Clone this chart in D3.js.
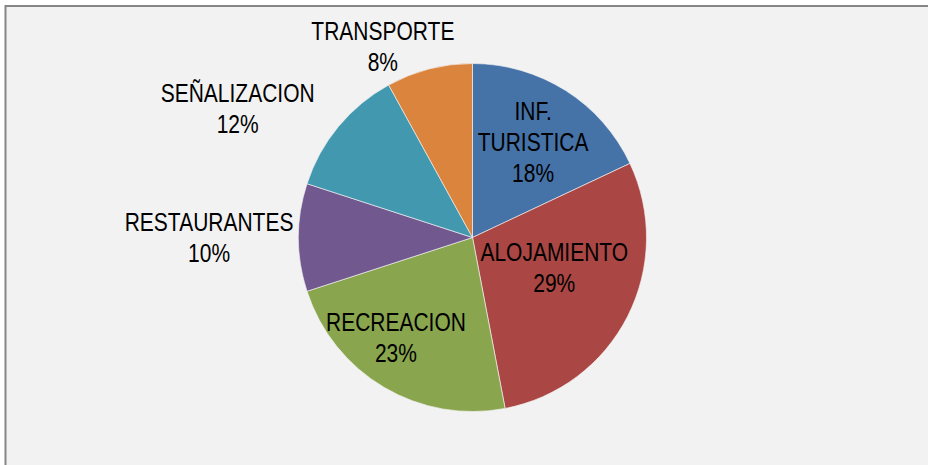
<!DOCTYPE html>
<html><head><meta charset="utf-8">
<script src="https://cdn.jsdelivr.net/npm/d3@7"></script>
<style>html,body{margin:0;padding:0;background:#fff;}svg{display:block;}</style>
</head><body>
<svg id="chart" width="928" height="465"></svg>
<script>
const categories = ["INF.\nTURISTICA", "ALOJAMIENTO", "RECREACION", "RESTAURANTES", "SEÑALIZACION", "TRANSPORTE"];
const values = [18, 29, 23, 10, 12, 8];
const colors = ["#4572A7", "#AA4643", "#89A54E", "#71588F", "#4198AF", "#DB843D"];

// label placement (polar, relative to each slice's mid angle)
const labelRadius = [0.65, 0.50, 0.726, 1.514, 1.54, 1.21];
const labelShiftDeg = [0, -7, 6.7, 0, -10.8, -10.8];

const W = 928, H = 465;
const cx = 472.5, cy = 237.5, R = 174;
const fontSize = 25, lineH = 31, capH = 18, narrow = 0.84;

const svg = d3.select("#chart");
svg.append("rect").attr("x", 0).attr("y", 0).attr("width", W).attr("height", H).attr("fill", "#fff");
svg.append("rect").attr("x", 5.5).attr("y", 6).attr("width", W + 20).attr("height", H + 20)
  .attr("fill", "#F2F2F2").attr("stroke", "#868686").attr("stroke-width", 2);

const total = d3.sum(values);
const pie = d3.pie().sort(null).value(d => d);
const arcs = pie(values);
const arc = d3.arc().innerRadius(0).outerRadius(R);

const g = svg.append("g").attr("transform", `translate(${cx},${cy})`);
g.selectAll("path").data(arcs).join("path")
  .attr("d", arc)
  .attr("fill", (d, i) => colors[i])
  .attr("stroke", "#f4f4f4").attr("stroke-width", 0.8).attr("stroke-opacity", 0.8);

g.selectAll("g.lab").data(arcs).join("g")
  .attr("class", "lab")
  .each(function(d, i) {
    const mid = (d.startAngle + d.endAngle) / 2 + labelShiftDeg[i] * Math.PI / 180;
    const r = labelRadius[i] * R;
    const x = r * Math.sin(mid), y = -r * Math.cos(mid);
    const lines = categories[i].split("\n").concat([Math.round(values[i] / total * 100) + "%"]);
    const n = lines.length;
    const firstBase = y - ((n - 1) * lineH + capH) / 2 + capH;
    const grp = d3.select(this).attr("transform", `translate(${x},${firstBase}) scale(${narrow},1)`);
    const t = grp.append("text")
      .attr("font-family", "'Liberation Sans', Arial, sans-serif")
      .attr("font-size", fontSize)
      .attr("fill", "#000")
      .attr("text-anchor", "middle");
    lines.forEach((s, k) => {
      t.append("tspan").attr("x", 0).attr("y", k * lineH).text(s);
    });
  });
</script>
</body></html>
